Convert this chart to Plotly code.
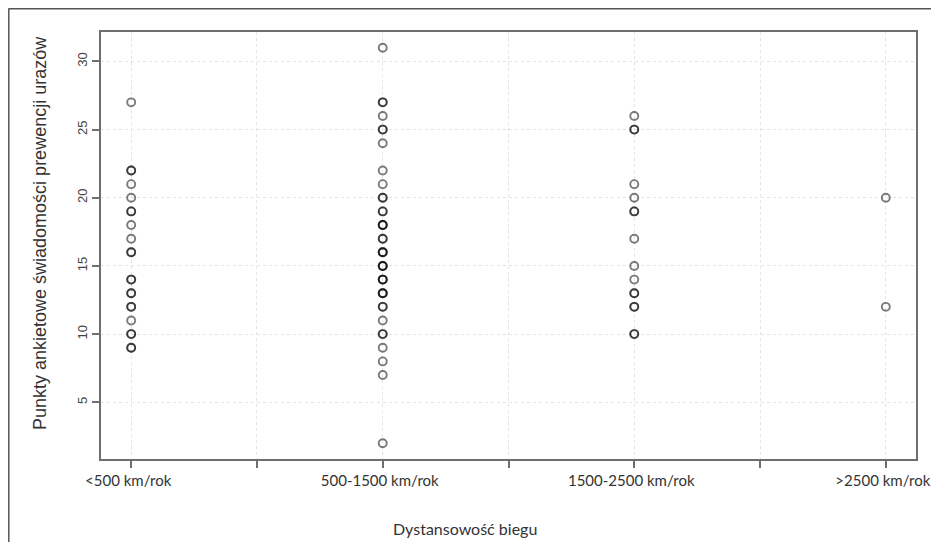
import plotly.graph_objects as go

categories = ["<500 km/rok", "500-1500 km/rok", "1500-2500 km/rok", ">2500 km/rok"]
scores_lt500 = [27, 22, 22, 21, 20, 19, 19, 18, 17, 16, 16, 14, 14, 13, 13, 12, 12, 11, 10, 10, 9, 9]
scores_500_1500 = [31, 27, 27, 26, 25, 25, 24, 22, 21, 20, 20, 19, 19, 18, 18, 18, 17, 17,
                   16, 16, 16, 15, 15, 15, 14, 14, 14, 13, 13, 13, 12, 12, 11, 10, 10, 9, 8, 7, 2]
scores_1500_2500 = [26, 25, 25, 21, 20, 19, 19, 17, 15, 14, 13, 13, 12, 12, 10, 10]
scores_gt2500 = [20, 12]
y_ticks = [5, 10, 15, 20, 25, 30]
x_tick_positions = [1, 1.5, 2, 2.5, 3, 3.5, 4]

groups = [scores_lt500, scores_500_1500, scores_1500_2500, scores_gt2500]
xs, ys = [], []
for i, g in enumerate(groups):
    xs += [i + 1] * len(g)
    ys += g

x_ticktext = []
for v in x_tick_positions:
    x_ticktext.append(categories[int(v) - 1] if float(v).is_integer() else "")

fig = go.Figure()
fig.add_trace(go.Scatter(
    x=xs, y=ys, mode="markers",
    marker=dict(symbol="circle-open", size=8, color="rgba(0,0,0,0.52)",
                line=dict(width=1.9, color="rgba(0,0,0,0.52)")),
    showlegend=False, hoverinfo="x+y"))

W, H = 931, 542
L, R, T, B = 101, 916, 32, 459

def px(x):
    return (x - L) / (R - L)

def py(y):
    return (B - y) / (B - T)

fig.update_layout(
    width=W, height=H,
    margin=dict(l=L, r=W - R, t=T, b=H - B),
    paper_bgcolor="white", plot_bgcolor="white",
    font=dict(family="Liberation Sans, Arial, sans-serif", color="#333"),
    xaxis=dict(range=[0.88, 4.12], tickvals=x_tick_positions, ticktext=x_ticktext,
               showgrid=True, gridcolor="#e4e4e4", griddash="dot", gridwidth=1,
               zeroline=False, showline=True, linecolor="#6e6e6e", linewidth=2, mirror=True,
               ticks="outside", ticklen=7, tickwidth=1.5, tickcolor="#6e6e6e",
               automargin=False, ticklabeloverflow="allow", ticklabelshift=-3,
               tickfont=dict(family="Lato, Open Sans, sans-serif", size=15, color="#333")),
    yaxis=dict(range=[0.84, 32.16], tickvals=y_ticks,
               showgrid=True, gridcolor="#e4e4e4", griddash="dot", gridwidth=1,
               zeroline=False, showline=True, linecolor="#6e6e6e", linewidth=2, mirror=True,
               ticks="outside", ticklen=7, tickwidth=1.5, tickcolor="#6e6e6e",
               tickangle=-90, automargin=False, ticklabeloverflow="allow",
               tickfont=dict(family="Liberation Sans, Arial, sans-serif", size=13, color="#444")),
    annotations=[
        dict(text="Dystansowość biegu", xref="paper", yref="paper",
             x=px(465), y=py(528), showarrow=False, xanchor="center", yanchor="middle",
             font=dict(family="Lato, Open Sans, sans-serif", size=16, color="#333")),
        dict(text="Punkty ankietowe świadomości prewencji urazów", xref="paper", yref="paper",
             x=px(40), y=py(233), showarrow=False, textangle=-90,
             xanchor="center", yanchor="middle",
             font=dict(family="Liberation Sans, Arial, sans-serif", size=18, color="#333")),
    ],
    shapes=[
        dict(type="line", xref="paper", yref="paper", x0=px(8.5), y0=py(8.8), x1=px(931), y1=py(8.8),
             line=dict(color="#555", width=1.5)),
        dict(type="line", xref="paper", yref="paper", x0=px(8.8), y0=py(8.5), x1=px(8.8), y1=py(542),
             line=dict(color="#555", width=1.5)),
    ],
)

fig.write_html(
    "out.html",
    config={"displayModeBar": False},
    post_script="document.body.style.margin='0';document.documentElement.style.overflow='hidden';",
)
